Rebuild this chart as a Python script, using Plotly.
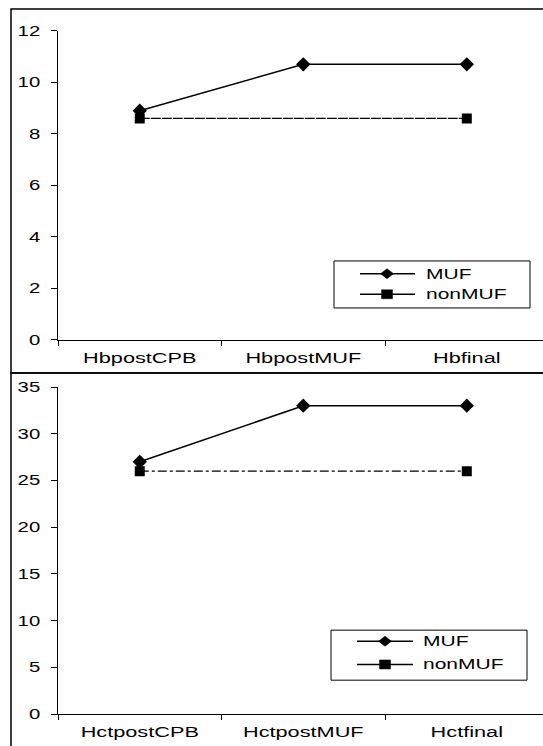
import plotly.graph_objects as go

# ---- data ----
hb_categories = ["HbpostCPB", "HbpostMUF", "Hbfinal"]
hb_muf = [8.9, 10.7, 10.7]
hb_nonmuf = [8.6, None, 8.6]

hct_categories = ["HctpostCPB", "HctpostMUF", "Hctfinal"]
hct_muf = [27, 33, 33]
hct_nonmuf = [26, None, 26]

series_names = ["MUF", "nonMUF"]

W, H = 543, 746
FONT = "Liberation Sans, Arial, sans-serif"

# observed vertical mapping of the photographed page: out = 0.978*in + 7.2
def fy(t):
    return (t - 7.2) / 0.978

def px_x(p):
    return p / W

def px_y(p):
    return 1 - fy(p) / H

fig = go.Figure()

fig.add_trace(go.Scatter(x=hb_categories, y=hb_muf, mode="lines+markers", name=series_names[0],
                         line=dict(color="black", width=1.5),
                         marker=dict(symbol="diamond", size=11, color="black"),
                         showlegend=False, xaxis="x", yaxis="y"))
fig.add_trace(go.Scatter(x=hb_categories, y=hb_nonmuf, mode="lines+markers", connectgaps=True,
                         name=series_names[1],
                         line=dict(color="black", width=1.2, dash="10px,1px"),
                         marker=dict(symbol="square", size=10, color="black"),
                         showlegend=False, xaxis="x", yaxis="y"))
fig.add_trace(go.Scatter(x=hct_categories, y=hct_muf, mode="lines+markers", name=series_names[0],
                         line=dict(color="black", width=1.5),
                         marker=dict(symbol="diamond", size=11, color="black"),
                         showlegend=False, xaxis="x2", yaxis="y2"))
fig.add_trace(go.Scatter(x=hct_categories, y=hct_nonmuf, mode="lines+markers", connectgaps=True,
                         name=series_names[1],
                         line=dict(color="black", width=1.2, dash="dashdot"),
                         marker=dict(symbol="square", size=10, color="black"),
                         showlegend=False, xaxis="x2", yaxis="y2"))

xdom = [px_x(58), 1.0]
xrange = [-0.5, 2.466]

common_x = dict(type="category", tickson="boundaries", ticks="outside", ticklen=5,
                tickcolor="black", showline=True, linecolor="black", linewidth=1,
                showgrid=False, zeroline=False, range=xrange, domain=xdom,
                tickfont=dict(family=FONT, size=14, color="black"), ticklabelstandoff=5)
common_y = dict(ticks="outside", ticklen=6, tickcolor="black", showline=True,
                linecolor="black", linewidth=1, showgrid=False, zeroline=False,
                tickfont=dict(family=FONT, size=14, color="black"), ticklabelstandoff=8)

shapes = [
    dict(type="rect", xref="paper", yref="paper",
         x0=px_x(11), x1=1.05, y0=px_y(372), y1=1 - 1.0 / H,
         line=dict(color="black", width=1.5)),
    dict(type="rect", xref="paper", yref="paper",
         x0=px_x(11), x1=1.05, y0=-0.05, y1=px_y(372),
         line=dict(color="black", width=1.5)),
]
annotations = []

# hand-drawn legend boxes (box, line-x span, marker centre x, text x, row ys)
legend_specs = [
    dict(box=(334, 530, 260, 307), line=(360, 415), mx=387, tx=424, rows=(272.7, 293.3)),
    dict(box=(331, 527, 629, 679), line=(357, 413), mx=385, tx=421, rows=(640, 663.3)),
]
for spec in legend_specs:
    bx0, bx1, by0, by1 = spec["box"]
    shapes.append(dict(type="rect", xref="paper", yref="paper",
                       x0=px_x(bx0), x1=px_x(bx1), y0=px_y(by1), y1=px_y(by0),
                       line=dict(color="black", width=1), fillcolor="white", layer="below"))
    lx0, lx1 = spec["line"]
    mx = spec["mx"]
    for i, ry in enumerate(spec["rows"]):
        shapes.append(dict(type="line", xref="paper", yref="paper",
                           x0=px_x(lx0), x1=px_x(lx1), y0=px_y(ry), y1=px_y(ry),
                           line=dict(color="black", width=1.5)))
        if i == 0:
            path = "M{},{} L{},{} L{},{} L{},{} Z".format(
                px_x(mx - 6.5), px_y(ry), px_x(mx), px_y(ry - 5),
                px_x(mx + 6.5), px_y(ry), px_x(mx), px_y(ry + 5))
            shapes.append(dict(type="path", xref="paper", yref="paper", path=path,
                               fillcolor="black", line=dict(color="black", width=0.5)))
        else:
            shapes.append(dict(type="rect", xref="paper", yref="paper",
                               x0=px_x(mx - 5.5), x1=px_x(mx + 5.5),
                               y0=px_y(ry + 4.5), y1=px_y(ry - 4.5),
                               fillcolor="black", line=dict(color="black", width=0.5)))
        annotations.append(dict(xref="paper", yref="paper", x=px_x(spec["tx"]), y=px_y(ry),
                                text=series_names[i], showarrow=False,
                                xanchor="left", yanchor="middle", align="left",
                                font=dict(family=FONT, size=14, color="black")))

fig.update_layout(
    width=W, height=H,
    margin=dict(l=0, r=0, t=0, b=0),
    paper_bgcolor="white", plot_bgcolor="white",
    font=dict(family=FONT, size=14, color="black"),
    showlegend=False,
    xaxis=dict(common_x, anchor="y"),
    yaxis=dict(common_y, anchor="x", range=[0, 12], dtick=2,
               domain=[px_y(339), px_y(30)]),
    xaxis2=dict(common_x, anchor="y2"),
    yaxis2=dict(common_y, anchor="x2", range=[0, 35], dtick=5,
                domain=[px_y(713), min(1.0, px_y(386))]),
    shapes=shapes,
    annotations=annotations,
)

post = """
document.body.style.margin = '0';
var gd = document.getElementById('{plot_id}');
function stretchText() {
  var sel = [['.xaxislayer-above text', 1.55], ['.yaxislayer-above text', 1.45], ['text.annotation-text', 1.5]];
  sel.forEach(function (p) {
    gd.querySelectorAll(p[0]).forEach(function (t) {
      var txt = t.textContent;
      if (t.getAttribute('data-stretched') === txt) return;
      t.removeAttribute('textLength');
      var w = t.getComputedTextLength();
      if (!w) return;
      if (p[0].indexOf('annotation') >= 0) {
        var a = t.getAttribute('text-anchor');
        var x = parseFloat(t.getAttribute('x') || '0');
        if (a === 'middle') { t.setAttribute('x', (x - w / 2).toFixed(1)); }
        else if (a === 'end') { t.setAttribute('x', (x - w).toFixed(1)); }
        t.setAttribute('text-anchor', 'start');
      }
      t.setAttribute('textLength', (w * p[1]).toFixed(1));
      t.setAttribute('lengthAdjust', 'spacingAndGlyphs');
      t.setAttribute('data-stretched', txt);
    });
  });
  gd.querySelectorAll('.annotation-text-g [clip-path], .annotation [clip-path]').forEach(function (e) {
    e.removeAttribute('clip-path');
  });
}
stretchText();
gd.on('plotly_afterplot', stretchText);
var n = 0;
var iv = setInterval(function () { stretchText(); if (++n > 30) clearInterval(iv); }, 100);
"""

fig.write_html("out.html", post_script=post, config={"displayModeBar": False})
